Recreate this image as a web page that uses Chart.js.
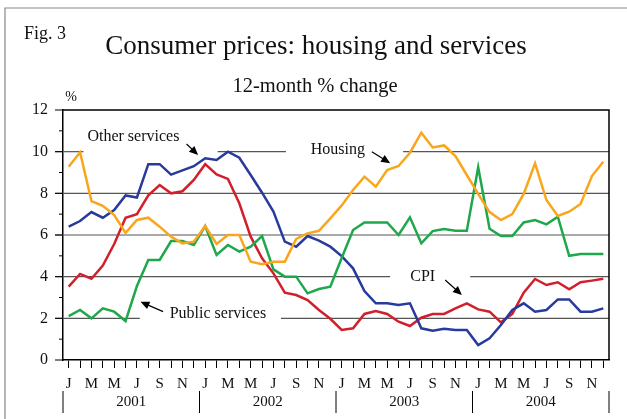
<!DOCTYPE html>
<html>
<head>
<meta charset="utf-8">
<title>Consumer prices: housing and services</title>
<script src="https://cdn.jsdelivr.net/npm/chart.js@4.4.1/dist/chart.umd.min.js"></script>
<style>
  html, body { margin: 0; padding: 0; background: #fff; }
  canvas { display: block; }
</style>
</head>
<body>
<canvas id="graphique" width="627" height="419"></canvas>
<script>
// Mois janvier 2001 -> décembre 2004
const moisInitiales = ['J', 'F', 'M', 'A', 'M', 'J', 'J', 'A', 'S', 'O', 'N', 'D'];
const annees = ['2001', '2002', '2003', '2004'];
const mois = annees.flatMap(() => moisInitiales);

// Variation sur 12 mois, en %
const logement = [
    9.28, 9.97, 7.63, 7.4, 6.96, 6.1, 6.72, 6.83, 6.4, 5.92, 5.6, 5.68,
    6.43, 5.57, 6.0, 6.0, 4.72, 4.6, 4.72, 4.72, 5.81, 6.08, 6.2, 6.8,
    7.42, 8.16, 8.8, 8.32, 9.12, 9.31, 9.95, 10.91, 10.2, 10.3, 9.79, 8.88,
    7.97, 7.1, 6.72, 7.0, 7.97, 9.44, 7.68, 6.91, 7.12, 7.49, 8.83, 9.52
];
const servicesPublics = [
    2.11, 2.4, 2.0, 2.48, 2.32, 1.87, 3.55, 4.8, 4.8, 5.71, 5.71, 5.52,
    6.43, 5.04, 5.52, 5.2, 5.44, 5.95, 4.35, 4.0, 4.0, 3.2, 3.41, 3.52,
    4.9, 6.24, 6.6, 6.6, 6.6, 6.0, 6.85, 5.6, 6.19, 6.29, 6.21, 6.21,
    9.25, 6.3, 5.95, 5.95, 6.6, 6.72, 6.51, 6.88, 5.0, 5.09, 5.09, 5.09
];
const autresServices = [
    6.4, 6.67, 7.1, 6.83, 7.2, 7.9, 7.8, 9.4, 9.4, 8.9, 9.1, 9.3,
    9.68, 9.6, 10.0, 9.71, 8.88, 8.03, 7.12, 5.68, 5.44, 5.95, 5.73, 5.44,
    4.99, 4.4, 3.31, 2.72, 2.72, 2.64, 2.72, 1.52, 1.41, 1.5, 1.44, 1.44,
    0.72, 1.04, 1.68, 2.4, 2.72, 2.32, 2.4, 2.91, 2.91, 2.32, 2.32, 2.48
];
const ipc = [
    3.52, 4.13, 3.9, 4.53, 5.57, 6.83, 7.0, 7.9, 8.4, 8.0, 8.1, 8.64,
    9.4, 8.91, 8.69, 7.52, 5.92, 4.88, 4.16, 3.23, 3.12, 2.88, 2.4, 1.98,
    1.44, 1.52, 2.21, 2.35, 2.21, 1.84, 1.63, 2.03, 2.21, 2.21, 2.48, 2.72,
    2.43, 2.32, 1.81, 2.21, 3.23, 3.89, 3.6, 3.73, 3.39, 3.73, 3.81, 3.9
];

const police = "'Liberation Serif', 'Times New Roman', serif";

// Étiquettes des séries : position (indice du mois, valeur), flèche, et trou dans la ligne de grille
const etiquettes = [
    { texte: 'Other services', i: 5.69, v: 10.72, de: [10.36, 10.37], vers: [11.38, 9.84] },
    { texte: 'Housing', i: 23.66, v: 10.08, de: [26.65, 10.0], vers: [28.26, 9.44] },
    { texte: 'CPI', i: 31.12, v: 4.0, de: [33.1, 3.84], vers: [34.57, 3.12] },
    { texte: 'Public services', i: 13.12, v: 2.21, de: [8.3, 2.32], vers: [6.31, 2.8] },
];
const trous = [
    { v: 10, de: 1.3, a: 13.1 },
    { v: 10, de: 19.1, a: 29.4 },
    { v: 4, de: 28.26, a: 35.3 },
    { v: 2, de: 6.25, a: 18.66 },
];

function fleche(ctx, x0, y0, x1, y1) {
    const ang = Math.atan2(y1 - y0, x1 - x0);
    ctx.beginPath();
    ctx.moveTo(x0, y0);
    ctx.lineTo(x1 - 6 * Math.cos(ang), y1 - 6 * Math.sin(ang));
    ctx.stroke();
    ctx.beginPath();
    ctx.moveTo(x1, y1);
    ctx.lineTo(x1 - 9 * Math.cos(ang) + 4 * Math.sin(ang), y1 - 9 * Math.sin(ang) - 4 * Math.cos(ang));
    ctx.lineTo(x1 - 9 * Math.cos(ang) - 4 * Math.sin(ang), y1 - 9 * Math.sin(ang) + 4 * Math.cos(ang));
    ctx.closePath();
    ctx.fill();
}

const decor = {
    id: 'decor',
    beforeDatasetsDraw(chart) {
        const { ctx, chartArea: a, scales: { x, y } } = chart;
        ctx.save();
        // lignes de grille paires, interrompues sous les étiquettes
        ctx.strokeStyle = '#555';
        ctx.lineWidth = 1.2;
        for (let v = 2; v <= 10; v += 2) {
            const py = y.getPixelForValue(v);
            let debut = a.left - 8;
            trous.filter(t => t.v === v).sort((p, q) => p.de - q.de).forEach(t => {
                ctx.beginPath();
                ctx.moveTo(debut, py);
                ctx.lineTo(x.getPixelForValue(t.de), py);
                ctx.stroke();
                debut = x.getPixelForValue(t.a);
            });
            ctx.beginPath();
            ctx.moveTo(debut, py);
            ctx.lineTo(a.right, py);
            ctx.stroke();
        }
        // graduations de l'axe des ordonnées
        ctx.strokeStyle = '#000';
        ctx.lineWidth = 1;
        for (let v = 0; v <= 12; v++) {
            const py = y.getPixelForValue(v);
            ctx.beginPath();
            ctx.moveTo(a.left - (v % 2 === 0 ? 8 : 4), py);
            ctx.lineTo(a.left, py);
            ctx.stroke();
        }
        ctx.restore();
    },
    afterDraw(chart) {
        const { ctx, chartArea: a, scales: { x, y } } = chart;
        ctx.save();
        // cadre de la figure
        ctx.strokeStyle = '#888';
        ctx.lineWidth = 1.2;
        ctx.beginPath();
        ctx.moveTo(5, 419);
        ctx.lineTo(5, 8);
        ctx.lineTo(627, 8);
        ctx.stroke();
        // bords haut et droit de la zone de tracé
        ctx.strokeStyle = '#000';
        ctx.lineWidth = 1.5;
        ctx.beginPath();
        ctx.moveTo(a.left, a.top);
        ctx.lineTo(a.right, a.top);
        ctx.lineTo(a.right, a.bottom);
        ctx.stroke();
        // titres
        ctx.fillStyle = '#111';
        ctx.textBaseline = 'middle';
        ctx.textAlign = 'left';
        ctx.font = '18px ' + police;
        ctx.fillText('Fig. 3', 24, 34);
        ctx.textAlign = 'center';
        ctx.font = '27px ' + police;
        ctx.fillText('Consumer prices: housing and services', 316, 47);
        ctx.font = '20.5px ' + police;
        ctx.fillText('12-month % change', 315, 87);
        ctx.font = '14px ' + police;
        ctx.fillText('%', 71, 97);
        // années et séparateurs
        ctx.font = '15px ' + police;
        annees.forEach((an, k) => {
            ctx.fillText(an, x.getPixelForValue(k * 12 + 5.5), 402);
        });
        ctx.lineWidth = 1;
        for (let k = 0; k <= annees.length; k++) {
            const px = x.getPixelForValue(k * 12 - 0.5);
            ctx.beginPath();
            ctx.moveTo(px, 391);
            ctx.lineTo(px, 413);
            ctx.stroke();
        }
        // étiquettes des séries et flèches
        ctx.font = '16px ' + police;
        etiquettes.forEach(e => {
            ctx.fillStyle = '#111';
            ctx.fillText(e.texte, x.getPixelForValue(e.i), y.getPixelForValue(e.v));
            ctx.strokeStyle = '#000';
            ctx.fillStyle = '#000';
            ctx.lineWidth = 1.2;
            fleche(ctx, x.getPixelForValue(e.de[0]), y.getPixelForValue(e.de[1]),
                x.getPixelForValue(e.vers[0]), y.getPixelForValue(e.vers[1]));
        });
        ctx.restore();
    }
};

function serie(label, data, couleur) {
    return {
        label: label,
        data: data,
        borderColor: couleur,
        borderWidth: 2.5,
        pointRadius: 0,
        tension: 0,
        fill: false,
    };
}

new Chart(document.getElementById('graphique'), {
    type: 'line',
    data: {
        labels: mois,
        datasets: [
            serie('Housing', logement, '#f9a61c'),
            serie('Public services', servicesPublics, '#1ea84b'),
            serie('Other services', autresServices, '#283a9c'),
            serie('CPI', ipc, '#d21f2b'),
        ],
    },
    options: {
        responsive: false,
        devicePixelRatio: 1,
        animation: false,
        layout: { padding: { top: 110, right: 18, left: 0, bottom: 0 } },
        plugins: {
            legend: { display: false },
            tooltip: { enabled: false },
        },
        scales: {
            x: {
                offset: true,
                grid: {
                    offset: false,
                    drawOnChartArea: false,
                    drawTicks: true,
                    tickLength: 8,
                    color: '#000',
                    lineWidth: 1,
                },
                border: { color: '#000', width: 1.5 },
                ticks: {
                    autoSkip: false,
                    maxRotation: 0,
                    padding: 7,
                    color: '#111',
                    font: { family: police, size: 15 },
                    callback: (val, index) => index % 2 === 0 ? mois[index] : '',
                },
                afterFit: (echelle) => { echelle.height = 59; },
            },
            y: {
                min: 0,
                max: 12,
                grid: { drawOnChartArea: false, drawTicks: false },
                border: { color: '#000', width: 1.5 },
                ticks: {
                    stepSize: 1,
                    padding: 15,
                    color: '#111',
                    font: { family: police, size: 16 },
                    callback: (val) => val % 2 === 0 ? val : '',
                },
                afterFit: (echelle) => { echelle.width = 63; },
            },
        },
    },
    plugins: [decor],
});
</script>
</body>
</html>
